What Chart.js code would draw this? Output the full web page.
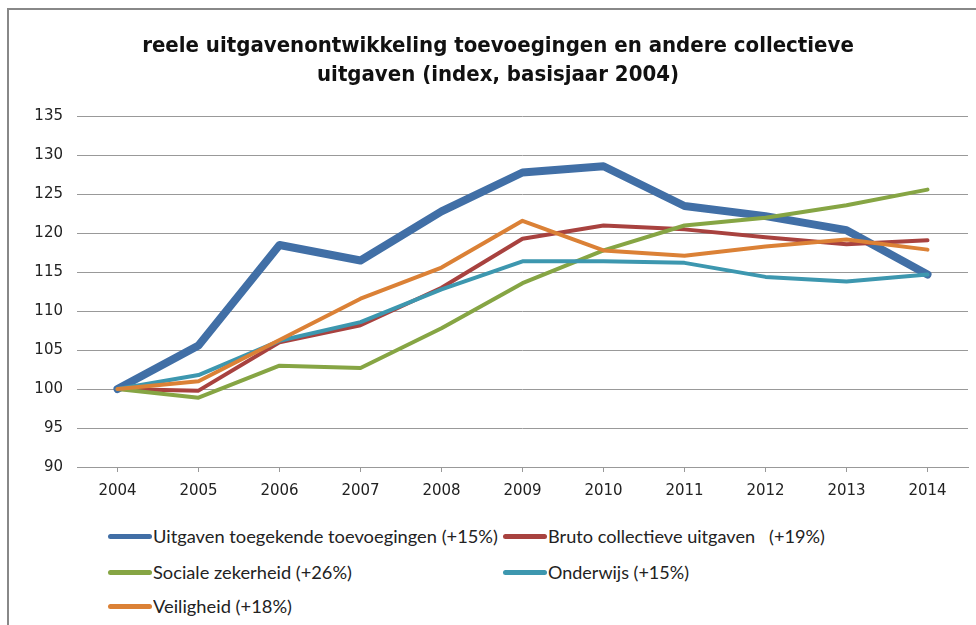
<!DOCTYPE html>
<html>
<head>
<meta charset="utf-8">
<script src="https://cdn.jsdelivr.net/npm/chart.js@4/dist/chart.umd.min.js"></script>
<style>
  body { margin: 0; background: #fff; }
  #frame { position: absolute; left: 7px; top: 8px; width: 1000px; height: 640px;
           border-left: 2px solid #888; border-top: 2px solid #888; }
  #wrap { position: absolute; left: 0; top: 0; width: 976px; height: 510px; }
  #legend { position: absolute; left: 108px; top: 526px; width: 800px;
            font-family: Lato, "DejaVu Sans", sans-serif;
            font-size: 18px; color: #222; }
  .item { position: absolute; white-space: nowrap; line-height: 20px; height: 20px; }
  .sw { position: absolute; left: 0; top: 8px; width: 44px; height: 5px; border-radius: 3px; }
  .txt { position: absolute; left: 45px; top: 0; transform-origin: 0 50%; }
</style>
</head>
<body>
<div id="frame"></div>
<div id="wrap"><canvas id="chart"></canvas></div>
<div id="legend"></div>
<script>
const years = ['2004','2005','2006','2007','2008','2009','2010','2011','2012','2013','2014'];

const toevoegingen = [100, 105.6, 118.5, 116.5, 122.8, 127.8, 128.6, 123.5, 122.2, 120.4, 114.7];
const brutoCollectief = [100, 99.8, 106.0, 108.2, 113.0, 119.3, 121.0, 120.5, 119.5, 118.6, 119.1];
const socialeZekerheid = [100, 98.9, 103.0, 102.7, 107.8, 113.6, 117.8, 121.0, 122.0, 123.6, 125.6];
const onderwijs = [100, 101.8, 106.2, 108.6, 112.8, 116.4, 116.4, 116.2, 114.4, 113.8, 114.7];
const veiligheid = [100, 101.0, 106.3, 111.6, 115.6, 121.6, 117.8, 117.1, 118.3, 119.2, 117.9];

const seriesNames = [
  'Uitgaven toegekende toevoegingen (+15%)',
  'Bruto collectieve uitgaven    (+19%)',
  'Sociale zekerheid (+26%)',
  'Onderwijs (+15%)',
  'Veiligheid (+18%)'
];
const colors = ['#416FA6', '#A8423F', '#86A544', '#3D97AF', '#DB8136'];

function ds(i, data, w) {
  return {
    label: seriesNames[i], data: data,
    borderColor: colors[i], backgroundColor: colors[i],
    borderWidth: w, pointRadius: 0, tension: 0,
    borderJoinStyle: 'round', borderCapStyle: 'round'
  };
}

const ctx = document.getElementById('chart');
const chart = new Chart(ctx, {
  type: 'line',
  data: {
    labels: years,
    datasets: [
      ds(4, veiligheid, 4),
      ds(3, onderwijs, 4),
      ds(2, socialeZekerheid, 4),
      ds(1, brutoCollectief, 4),
      ds(0, toevoegingen, 8)
    ]
  },
  options: {
    responsive: true,
    maintainAspectRatio: false,
    animation: false,
    layout: { padding: { left: 28, right: 8, top: 0, bottom: 0 } },
    plugins: {
      legend: { display: false },
      tooltip: { enabled: false },
      title: {
        display: true,
        text: ['reele uitgavenontwikkeling toevoegingen en andere collectieve', 'uitgaven (index, basisjaar 2004)'],
        color: '#111',
        font: { family: '"DejaVu Sans Condensed", sans-serif', size: 22, weight: 'bold', lineHeight: 1.35 },
        padding: { top: 31, bottom: 26 }
      }
    },
    scales: {
      x: {
        offset: true,
        grid: { display: true, drawOnChartArea: false, offset: false, tickLength: 5, color: '#999' },
        border: { display: true, color: '#999' },
        ticks: { color: '#222', padding: 10, font: { family: '"DejaVu Sans", sans-serif', size: 15 }, maxRotation: 0 },
        afterFit: s => { s.height = 43; }
      },
      y: {
        min: 90, max: 135,
        ticks: { stepSize: 5, color: '#222', padding: 14, font: { family: '"DejaVu Sans", sans-serif', size: 15 } },
        grid: { color: '#999', drawTicks: false },
        border: { display: false },
        afterFit: s => { s.width = 49; }
      }
    }
  }
});

// legend in two columns as in the original, text fitted to the original widths
const legendWidths = [345, 277, 199, 141, 139];
const legendEl = document.getElementById('legend');
seriesNames.forEach((name, i) => {
  const row = Math.floor(i / 2), col = i % 2;
  const div = document.createElement('div');
  div.className = 'item';
  div.style.left = (col * 395) + 'px';
  div.style.top = [0, 36, 70][row] + 'px';
  const sw = document.createElement('span');
  sw.className = 'sw';
  sw.style.background = colors[i];
  div.appendChild(sw);
  const t = document.createElement('span');
  t.className = 'txt';
  t.textContent = name.replace(/ {2,}/g, '\u00a0\u00a0 ');
  div.appendChild(t);
  legendEl.appendChild(div);
  const w = t.getBoundingClientRect().width;
  t.style.transform = 'scaleX(' + (legendWidths[i] / w).toFixed(3) + ')';
});
</script>
</body>
</html>
